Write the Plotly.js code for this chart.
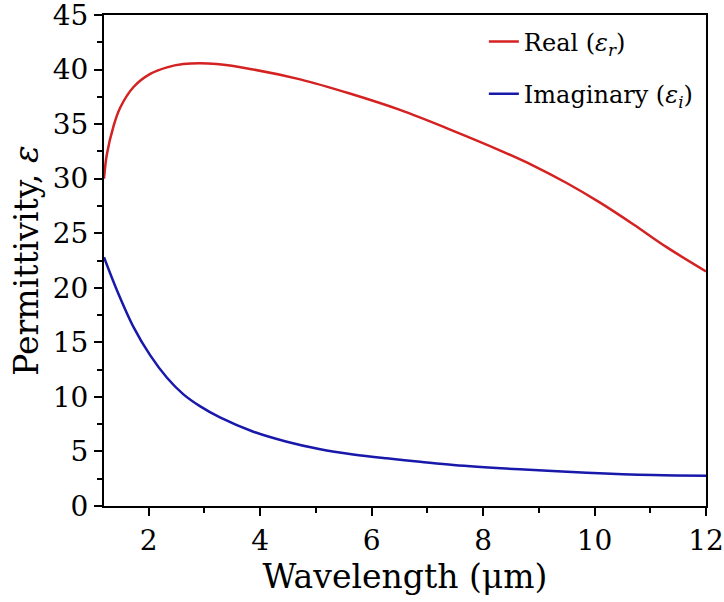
<!DOCTYPE html>
<html>
<head>
<meta charset="utf-8">
<script src="https://cdn.plot.ly/plotly-3.0.1.min.js"></script>
<style>html,body{margin:0;padding:0;background:#fff;}#chart{width:724px;height:602px;}</style>
</head>
<body>
<div id="chart"></div>
<script>
// Wavelength (µm) and permittivity values
const realX = [1.2, 1.25, 1.37, 1.49, 1.73, 2.03, 2.33, 2.62, 2.92, 3.22, 3.82, 4.72, 5.61, 6.51, 7.41, 8.3, 8.9, 9.5, 10.1, 10.7, 11.3, 12.0];
const realY = [30.0, 32.2, 34.8, 36.5, 38.4, 39.6, 40.2, 40.5, 40.58, 40.5, 40.06, 39.1, 37.8, 36.3, 34.5, 32.6, 31.2, 29.6, 27.8, 25.8, 23.7, 21.5];
const imagX = [1.2, 1.43, 1.73, 2.03, 2.33, 2.62, 2.92, 3.28, 3.88, 4.48, 5.08, 5.67, 6.27, 6.87, 7.47, 8.66, 9.86, 11.05, 12.0];
const imagY = [22.8, 19.8, 16.4, 13.8, 11.75, 10.25, 9.15, 8.12, 6.81, 5.89, 5.2, 4.73, 4.37, 4.06, 3.76, 3.36, 3.05, 2.84, 2.78];
const seriesNames = ['Real (<i>ε</i><sub><i>r</i></sub>)', 'Imaginary (<i>ε</i><sub><i>i</i></sub>)'];
const xTicks = [2, 4, 6, 8, 10, 12];
const yTicks = [0, 5, 10, 15, 20, 25, 30, 35, 40, 45];

const font = 'DejaVu Serif';
const traces = [
  {x: realX, y: realY, name: seriesNames[0], mode: 'lines', line: {color: '#d42222', width: 2.5, shape: 'spline', smoothing: 1}, legendgroup: 'a'},
  {x: imagX, y: imagY, name: seriesNames[1], mode: 'lines', line: {color: '#1818aa', width: 2.5, shape: 'spline', smoothing: 1}, legendgroup: 'b'}
];
const axisCommon = {
  showgrid: false, zeroline: false, showline: true, linecolor: '#000', linewidth: 2,
  mirror: true, ticks: 'outside', ticklen: 8, tickwidth: 2, tickcolor: '#000',
  ticklabeloverflow: 'allow',
  tickfont: {family: font, size: 28, color: '#000'}
};
const layout = {
  width: 724, height: 602,
  margin: {l: 104, r: 18, t: 15, b: 96},
  paper_bgcolor: '#fff', plot_bgcolor: '#fff',
  font: {family: font, color: '#000'},
  showlegend: true,
  legend: {x: 0.631, y: 0.991, xanchor: 'left', yanchor: 'top', bgcolor: 'rgba(0,0,0,0)',
           font: {family: font, size: 24, color: '#000'}, tracegroupgap: 18, traceorder: 'grouped'},
  xaxis: Object.assign({}, axisCommon, {
    range: [1.2, 12], tickvals: xTicks, ticktext: xTicks.map(String),
    minor: {dtick: 1, tick0: 0, ticks: 'outside', ticklen: 5, tickwidth: 2, tickcolor: '#000'},
    title: {text: 'Wavelength (μm)', font: {family: font, size: 33, color: '#000'}, standoff: 8}
  }),
  yaxis: Object.assign({}, axisCommon, {
    range: [0, 45], tickvals: yTicks, ticktext: yTicks.map(String),
    minor: {dtick: 2.5, tick0: 0, ticks: 'outside', ticklen: 5, tickwidth: 2, tickcolor: '#000'},
    title: {text: 'Permittivity, <i>ε</i>', font: {family: font, size: 33, color: '#000'}, standoff: 4}
  })
};
Plotly.newPlot('chart', traces, layout, {displayModeBar: false, staticPlot: true});
</script>
</body>
</html>
